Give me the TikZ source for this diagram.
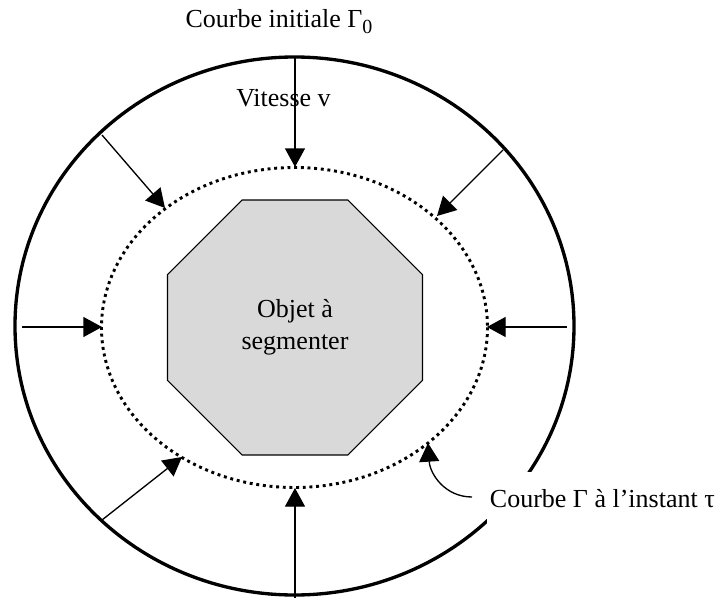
\documentclass[tikz,border=0pt]{standalone}
\usepackage{fontspec}
\setmainfont{Liberation Serif}
\usetikzlibrary{arrows.meta,shapes.geometric}

\definecolor{objgray}{RGB}{217,217,217}
\tikzset{
  lbl/.style={inner sep=0.75pt, font=\fontsize{19.5}{24}\selectfont},
  push/.style={line width=1pt, -{Triangle[length=14pt,width=15pt]}},
  front/.style={line width=2.2pt, dash pattern=on 2.2pt off 2.8pt},
  octo/.style={regular polygon, regular polygon sides=8, minimum size=207pt,
    draw, line width=0.8pt, fill=objgray, align=center, lbl}
}

\begin{document}
\begin{tikzpicture}[x=0.75pt,y=0.75pt,yscale=-1,xscale=1]
\useasboundingbox (0,0) rectangle (722,603);

        %Shape: Ellipse [initial curve]
        \draw[line width=2.5pt] (294.5,326) ellipse [x radius=279.5, y radius=269];
        %Shape: Ellipse [curve at instant tau]
        \draw[front] (294.5,327.5) ellipse [x radius=193, y radius=160];
        %Shape: Octagon
        \node[octo] (obj) at (295,327.5) {Objet à\\segmenter};

        %tails on the initial curve
        \coordinate (tl1) at (295,57);
        \coordinate (tl2) at (102,135);
        \coordinate (tl3) at (503,150);
        \coordinate (tl4) at (22,327);
        \coordinate (tl5) at (567,327);
        \coordinate (tl6) at (102,520);
        \coordinate (tl7) at (295,598);
        %heads on the moving curve
        \coordinate (hd1) at (295,167);
        \coordinate (hd2) at (165,208);
        \coordinate (hd3) at (437,216);
        \coordinate (hd4) at (102,327);
        \coordinate (hd5) at (487,327);
        \coordinate (hd6) at (182,457);
        \coordinate (hd7) at (295,488);
        \coordinate (hd8) at (428,443);

        %Straight Lines
        \foreach \i in {1,...,7}
          \draw[push] (tl\i) -- (hd\i);

        \node[lbl, anchor=base] (init) at (279,27) {Courbe initiale Γ\raisebox{-4.5pt}{\fontsize{15}{15}\selectfont 0}};
        \node[lbl, anchor=base] (speed) at (283.5,106) {Vitesse v};
        \node[lbl, anchor=west, fill=white, inner xsep=2pt, minimum height=40pt] (inst) at (487,498.5) {Courbe Γ à l’instant τ};

        %Curve Lines
        \coordinate (tl8) at (472,497);
        \draw[push] (tl8) .. controls (445,497) and (430,474) .. (hd8);
\end{tikzpicture}
\end{document}
